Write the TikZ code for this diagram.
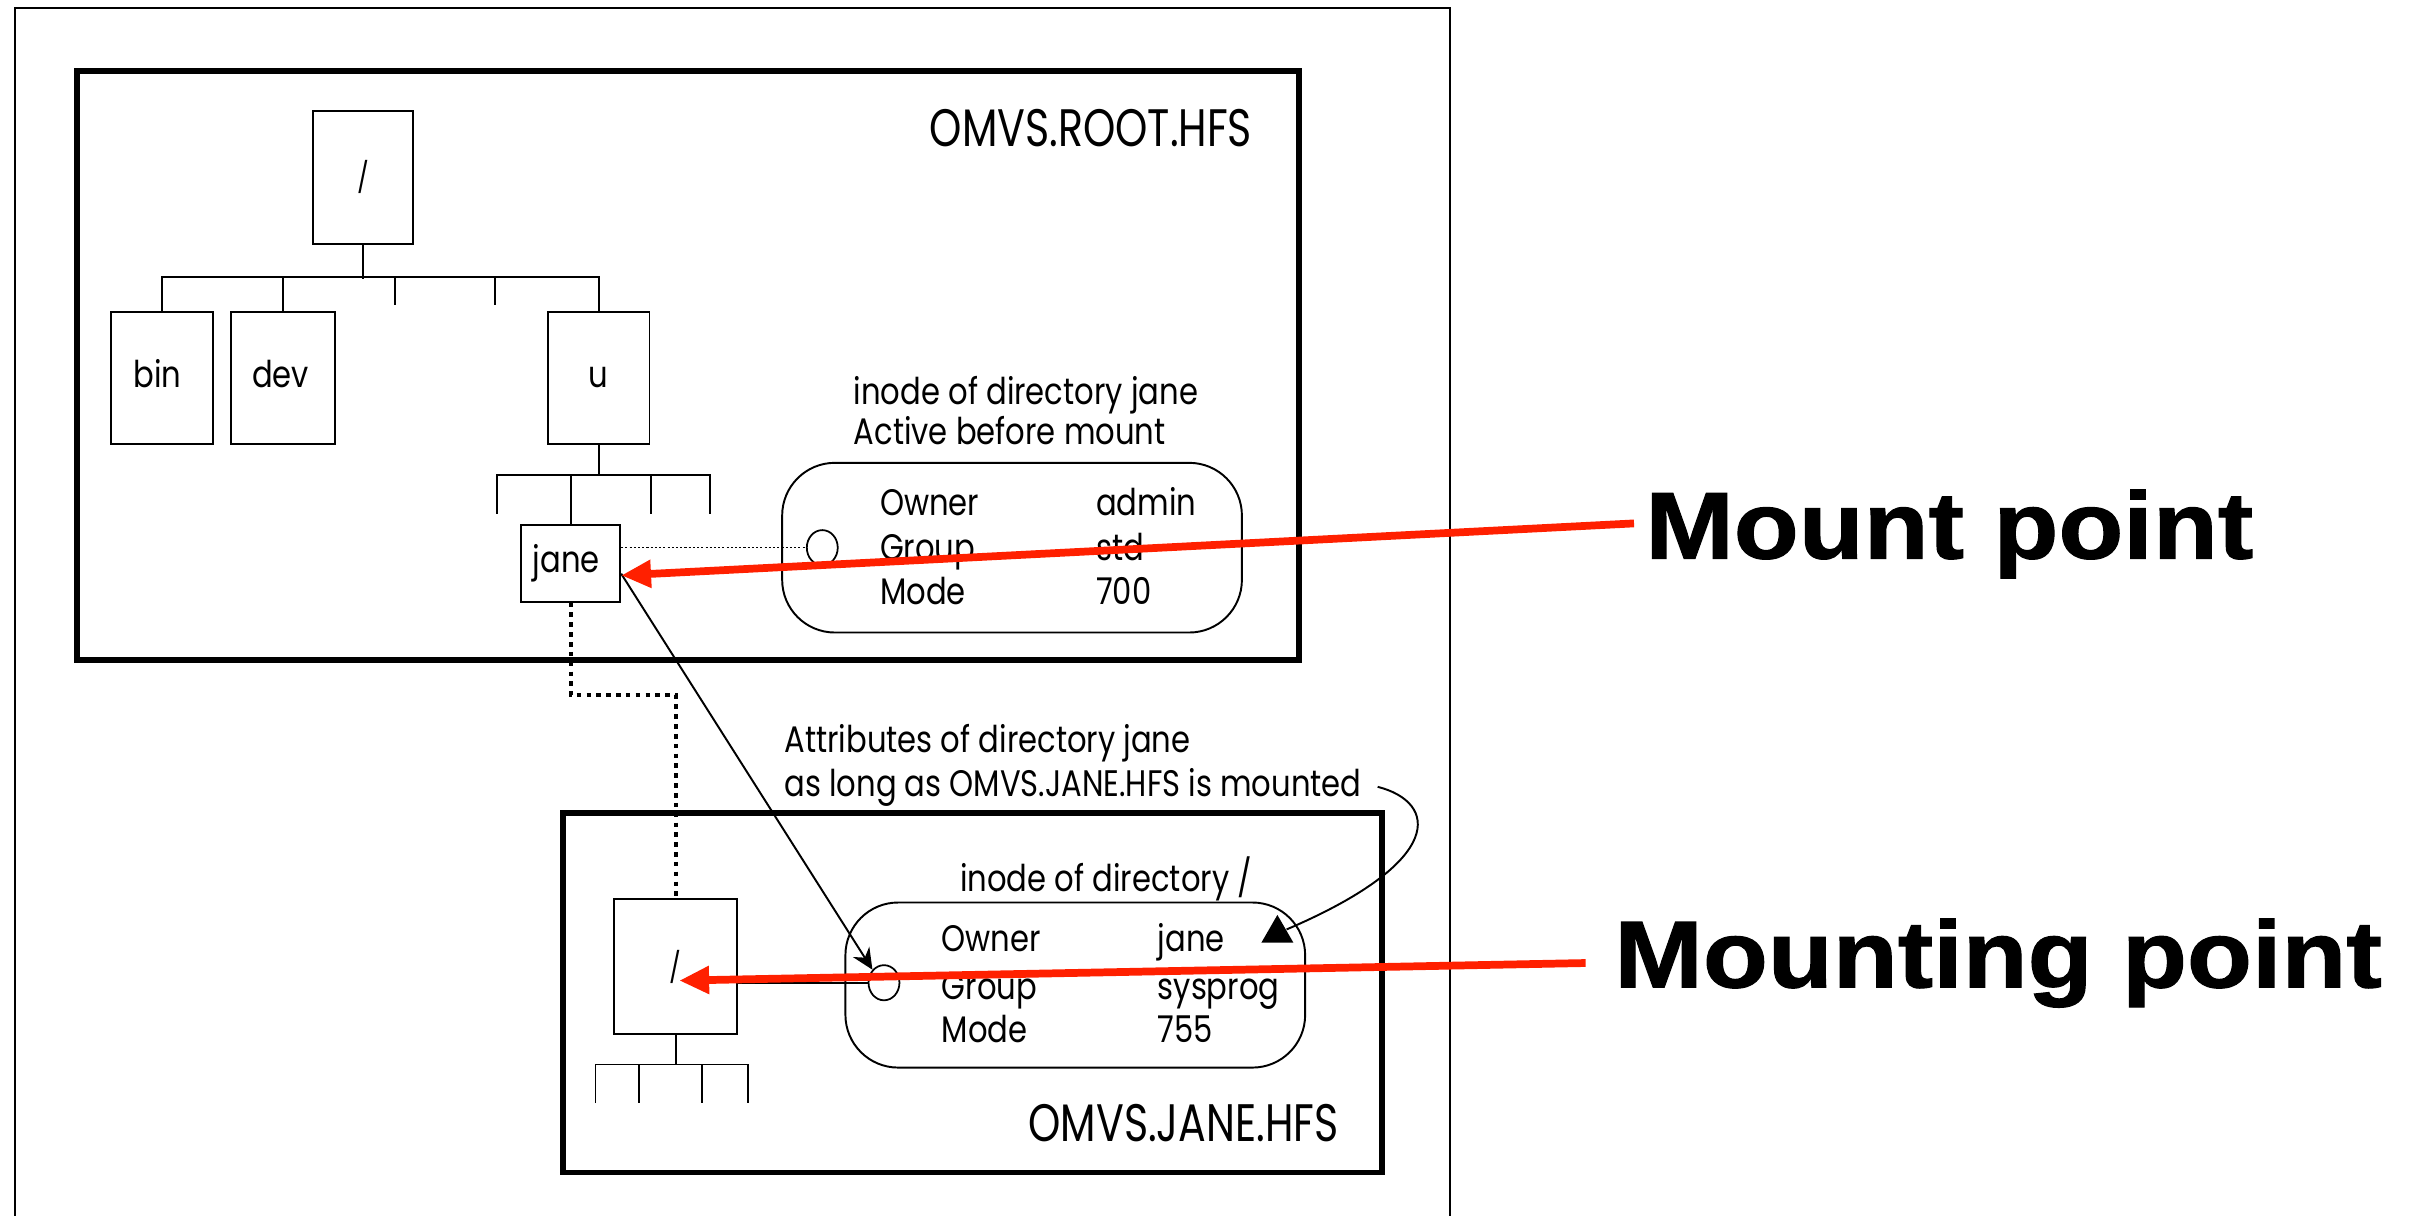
\documentclass[tikz,border=0pt]{standalone}
\usepackage{fontspec}
\usetikzlibrary{arrows.meta,fit,shapes.geometric}
\newfontfamily\dfont[FakeStretch=0.83]{Poppins}
\newfontfamily\lfont[FakeStretch=0.78]{Poppins}
\newfontfamily\bigfont[FakeStretch=1.12,FakeBold=1.2]{Liberation Sans}
\definecolor{arrred}{RGB}{255,32,0}
\begin{document}
\begin{tikzpicture}[x=0.4389pt,y=-0.4389pt,
  thinln/.style={line width=0.55pt},
  fsbox/.style={draw,line width=1.6pt,inner sep=0pt},
  dirbox/.style={draw,line width=0.55pt,inner sep=0pt},
  inodebox/.style={draw,line width=0.55pt,inner sep=0pt,rounded corners=15pt},
  hole/.style={draw,line width=0.5pt,ellipse,inner sep=0pt,minimum width=8.8pt,minimum height=10pt},
  txt/.style={font=\dfont\fontsize{10.5}{12}\selectfont,inner sep=0pt,anchor=base west},
  txtbig/.style={font=\lfont\fontsize{15}{17}\selectfont,inner sep=0pt,anchor=base east},
  slashtxt/.style={font=\dfont\fontsize{8.5}{10}\selectfont,inner sep=0pt},
  finedots/.style={line width=0.4pt,dash pattern=on 0.6pt off 0.6pt},
  thickdots/.style={line width=1.2pt,dash pattern=on 1.3pt off 1.5pt},
  redarrow/.style={draw=arrred,line width=2.2pt,-{Triangle[length=8.5pt,width=7.5pt]}},
  bigtxt/.style={font=\bigfont\bfseries\fontsize{27}{30}\selectfont,inner sep=0pt,anchor=base west}
]
\useasboundingbox (0,0) rectangle (1568,787.6);
\fill[white] (0,0) rectangle (1568,787.6);
% page frame
\draw[line width=0.6pt] (10,790) -- (10,5) -- (940,5) -- (940,790);

% ---------- root file system ----------
\node[fsbox, fit={(50,46) (842,428)}] (rootfs) {};
\node[txtbig] (rootlbl) at (812,95) {OMVS.ROOT.HFS};

\node[dirbox, fit={(203,72) (268,158)}] (root) {};
\node[slashtxt] (rootsl) at (root.center) {/};
\node[dirbox, fit={(72,202) (138,288)}] (bin) {};
\node[txt] (bintxt) at (86,251) {bin};
\node[dirbox, fit={(150,202) (217,288)}] (dev) {};
\node[txt] (devtxt) at (163,251) {dev};
\node[dirbox, fit={(355,202) (421,288)}] (u) {};
\node[txt] (utxt) at (381,251) {u};

\draw[thinln] (root.south) -- ++(0,22);
\draw[thinln] (bin.north) -- ++(0,-22) -| (u.north);
\draw[thinln] (dev.north) -- ++(0,-22);
\draw[thinln] (256,180) -- (256,198);
\draw[thinln] (321,180) -- (321,198);

\node[dirbox, fit={(338,340) (402,390)}] (jane) {};
\node[txt] (janetxt) at (345,371) {jane};
\draw[thinln] (u.south) -- ++(0,20);
\draw[thinln] (322,333) -- (322,308) -- (460,308) -- (460,333);
\draw[thinln] (422,308) -- (422,333);
\draw[thinln] (jane.north) -- ++(0,-32);

\node[txt] (inAa) at (553,262) {inode of directory jane};
\node[txt] (inAb) at (553,288) {Active before mount};
\node[inodebox, fit={(507,300) (805,410)}] (inodeA) {};
\node[hole] (circA) at (533,355) {};
\node[txt] (ownA) at (570,334) {Owner};
\node[txt] (ownAv) at (710,334) {admin};
\node[txt] (grpA) at (570,363) {Group};
\node[txt] (grpAv) at (710,363) {std};
\node[txt] (modA) at (570,392) {Mode};
\node[txt] (modAv) at (710,392) {700};
\draw[finedots] (jane.east |- circA.west) -- (circA.west);

% ---------- mounted file system ----------
\node[fsbox, fit={(365,527) (896,760)}] (janefs) {};
\node[txtbig] (janelbl) at (868,740) {OMVS.JANE.HFS};

\node[dirbox, fit={(398,583) (478,670)}] (lroot) {};
\node[slashtxt] (lrootsl) at (lroot.center) {/};
\draw[thinln] (lroot.south) -- ++(0,20);
\draw[thinln] (386,715) -- (386,690) -- (485,690) -- (485,715);
\draw[thinln] (414,690) -- (414,715);
\draw[thinln] (455,690) -- (455,715);

\node[txt] (attA) at (508,488) {Attributes of directory jane};
\node[txt] (attB) at (508,516) {as long as OMVS.JANE.HFS is mounted};

\node[txt, anchor=base] (inBa) at (717,578) {inode of directory /};
\node[inodebox, fit={(548,585) (846,692)}] (inodeB) {};
\node[hole] (circB) at (573,637) {};
\node[txt] (ownB) at (610,617) {Owner};
\node[txt] (ownBv) at (750,617) {jane};
\node[txt] (grpB) at (610,648) {Group};
\node[txt] (grpBv) at (750,648) {sysprog};
\node[txt] (modB) at (610,676) {Mode};
\node[txt] (modBv) at (750,676) {755};
\node[regular polygon, regular polygon sides=3, fill=black, inner sep=0pt, minimum size=10.5pt] (tri) at (828,605) {};

\draw[thinln] (lroot.east |- circB.west) -- (circB.west);
\draw[thickdots] (jane.south) -- ++(0,60) -| (lroot.north);
\draw[thinln, -{Stealth[length=6pt,width=5.5pt]}] ([yshift=-3pt]jane.east) -- (circB.north west);
\draw[thinln] (893,510) .. controls (932,520) and (938,558) .. (tri);

% ---------- callouts ----------
\node[bigtxt] (mount) at (1066,362) {Mount point};
\node[bigtxt] (mounting) at (1046,640) {Mounting point};
\draw[redarrow] ([xshift=-3pt,yshift=3pt]mount.west) -- ([yshift=-3.5pt]jane.east);
\draw[redarrow] ([xshift=-8pt]mounting.west) -- ([xshift=1pt,yshift=-4pt]lroot.center);
\end{tikzpicture}
\end{document}
